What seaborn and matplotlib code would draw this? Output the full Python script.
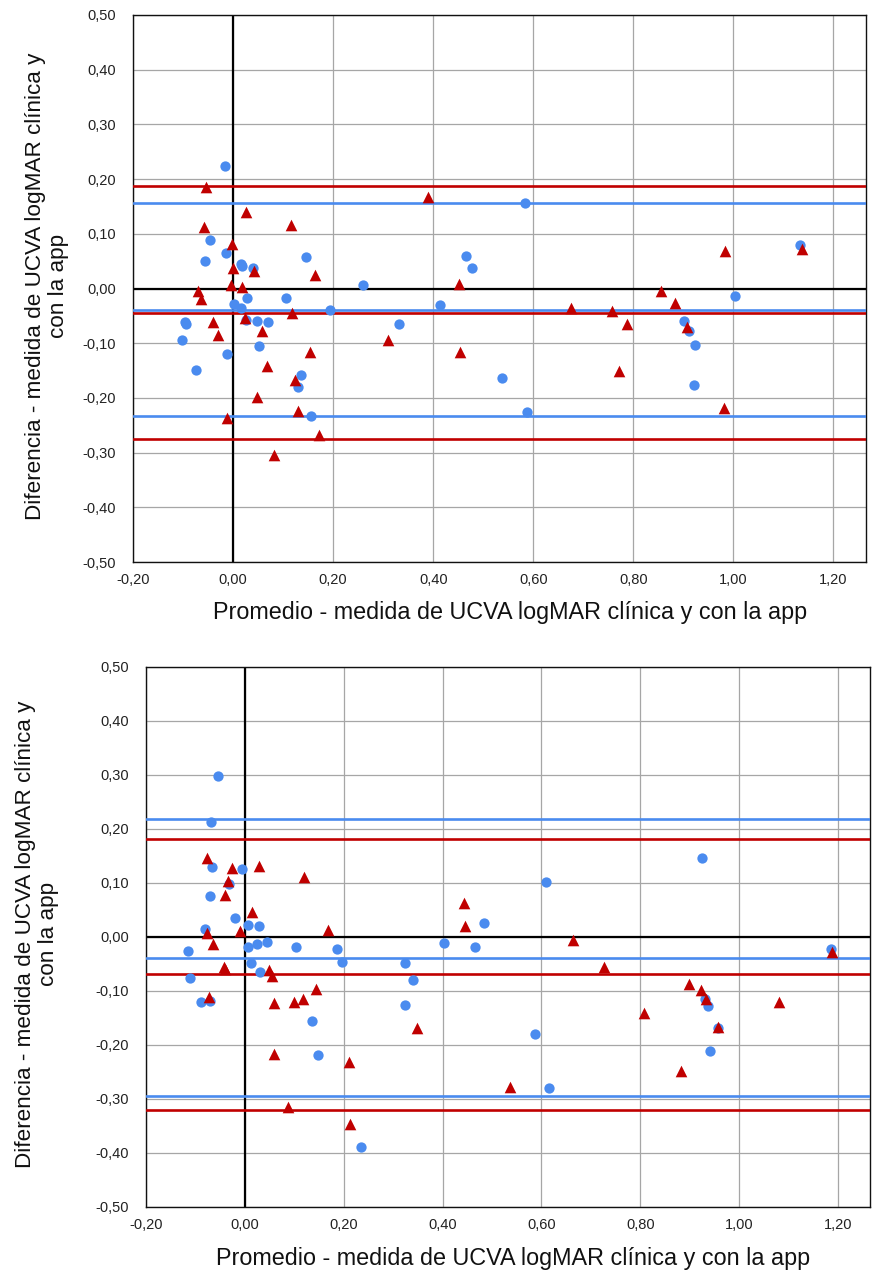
import matplotlib
matplotlib.use("Agg")
import matplotlib.pyplot as plt
import seaborn as sns
import pandas as pd

# ---------------- data ----------------
xticks = [-0.2, 0.0, 0.2, 0.4, 0.6, 0.8, 1.0, 1.2]
xtick_labels = ["-0,20", "0,00", "0,20", "0,40", "0,60", "0,80", "1,00", "1,20"]
yticks = [-0.5, -0.4, -0.3, -0.2, -0.1, 0.0, 0.1, 0.2, 0.3, 0.4, 0.5]
ytick_labels = ["-0,50", "-0,40", "-0,30", "-0,20", "-0,10", "0,00", "0,10", "0,20", "0,30", "0,40", "0,50"]

xlabel = "Promedio - medida de UCVA logMAR clínica y con la app"
ylabel = "Diferencia - medida de UCVA logMAR clínica y\ncon la app"

top_blue_x = [-0.017, -0.046, -0.015, -0.057, 0.015, 0.018, 0.039, 0.145, 0.027, 0.105, 0.001, 0.016, 0.193,
              -0.097, -0.095, 0.026, 0.048, 0.070, -0.103, 0.051, -0.013, -0.074, 0.136, 0.129, 0.155, 0.259,
              0.583, 0.465, 0.477, 0.413, 0.332, 0.537, 0.587, 1.133, 1.003, 0.902, 0.911, 0.923, 0.921]
top_blue_y = [0.224, 0.088, 0.064, 0.050, 0.045, 0.042, 0.037, 0.058, -0.018, -0.018, -0.029, -0.035, -0.039,
              -0.061, -0.064, -0.057, -0.059, -0.061, -0.094, -0.106, -0.119, -0.149, -0.158, -0.180, -0.234, 0.007,
              0.157, 0.060, 0.037, -0.031, -0.065, -0.164, -0.226, 0.080, -0.013, -0.059, -0.077, -0.104, -0.177]

top_red_x = [-0.054, 0.026, -0.059, 0.116, -0.002, 0.000, 0.042, 0.163, -0.005, 0.017, -0.071, -0.064, 0.118,
             0.024, -0.040, 0.057, -0.031, 0.153, 0.068, 0.123, 0.047, 0.130, -0.012, 0.172, 0.081, 0.390,
             0.451, 0.676, 0.309, 0.454, 1.137, 0.983, 0.855, 0.884, 0.758, 0.787, 0.907, 0.771, 0.981]
top_red_y = [0.186, 0.139, 0.113, 0.116, 0.081, 0.037, 0.032, 0.024, 0.007, 0.003, -0.004, -0.020, -0.044,
             -0.054, -0.062, -0.077, -0.085, -0.117, -0.141, -0.168, -0.198, -0.224, -0.236, -0.268, -0.304, 0.167,
             0.009, -0.036, -0.095, -0.116, 0.073, 0.069, -0.004, -0.026, -0.042, -0.064, -0.070, -0.150, -0.218]

top_blue_lines = [-0.039, 0.156, -0.233]
top_red_lines = [-0.045, 0.188, -0.275]

bot_blue_x = [-0.054, -0.069, -0.066, -0.005, -0.032, -0.071, -0.020, -0.080, 0.007, 0.028, 0.044, 0.007, 0.025,
              0.103, 0.187, -0.115, 0.197, 0.013, 0.030, -0.110, -0.089, -0.071, 0.135, 0.148, 0.236, 0.610,
              0.484, 0.403, 0.465, 0.325, 0.340, 0.325, 0.588, 0.615, 0.925, 1.187, 0.931, 0.937, 0.958, 0.941]
bot_blue_y = [0.298, 0.213, 0.129, 0.126, 0.099, 0.076, 0.036, 0.015, 0.022, 0.020, -0.009, -0.018, -0.013,
              -0.018, -0.022, -0.026, -0.047, -0.049, -0.064, -0.076, -0.120, -0.118, -0.156, -0.218, -0.389, 0.102,
              0.026, -0.012, -0.018, -0.049, -0.080, -0.125, -0.180, -0.279, 0.146, -0.022, -0.115, -0.127, -0.169, -0.212]

bot_red_x = [-0.077, -0.026, 0.029, 0.119, -0.035, -0.040, 0.014, -0.077, -0.009, 0.168, -0.065, -0.042, -0.040,
             0.048, 0.055, 0.143, -0.073, 0.060, 0.099, 0.117, 0.058, 0.210, 0.087, 0.213, 0.444, 0.446,
             0.665, 0.727, 0.348, 0.537, 1.189, 0.898, 0.923, 0.933, 1.081, 0.807, 0.957, 0.883]
bot_red_y = [0.147, 0.127, 0.131, 0.111, 0.104, 0.078, 0.046, 0.007, 0.011, 0.013, -0.013, -0.055, -0.060,
             -0.061, -0.073, -0.097, -0.111, -0.122, -0.120, -0.115, -0.217, -0.231, -0.315, -0.346, 0.063, 0.021,
             -0.006, -0.055, -0.168, -0.277, -0.027, -0.087, -0.098, -0.115, -0.120, -0.140, -0.166, -0.249]

bot_blue_lines = [-0.038, 0.219, -0.295]
bot_red_lines = [-0.068, 0.182, -0.320]

# ---------------- style ----------------
sns.set_style("white")
plt.rcParams["font.family"] = ["Liberation Sans", "DejaVu Sans"]

BLUE = "#4A8BEF"
BLUE_LINE = "#4A8BEF"
RED = "#C00000"
GRID = "#A6A6A6"

W, H = 872, 1274
fig = plt.figure(figsize=(W / 100, H / 100), dpi=100)


def px_axes(left, top, right, bottom):
    return fig.add_axes([left / W, 1 - bottom / H, (right - left) / W, (bottom - top) / H])


def draw(ax, bx, by, rx, ry, blines, rlines):
    ax.set_xlim(-0.2, 1.265)
    ax.set_ylim(-0.5, 0.5)
    ax.set_xticks(xticks)
    ax.set_xticklabels(xtick_labels)
    ax.set_yticks(yticks)
    ax.set_yticklabels(ytick_labels)
    ax.tick_params(length=0, labelsize=10.5, colors="#222222", pad=12)
    ax.tick_params(axis="x", pad=8)
    ax.grid(True, color=GRID, lw=0.9)
    ax.set_axisbelow(True)
    for s in ax.spines.values():
        s.set_color("#111111")
        s.set_linewidth(1.0)
    ax.axhline(0, color="black", lw=1.6, zorder=2)
    ax.axvline(0, color="black", lw=1.6, zorder=2)
    for v in blines:
        ax.axhline(v, color=BLUE_LINE, lw=1.9, zorder=3)
    for v in rlines:
        ax.axhline(v, color=RED, lw=1.9, zorder=3)
    dfb = pd.DataFrame({"x": bx, "y": by})
    dfr = pd.DataFrame({"x": rx, "y": ry})
    sns.scatterplot(data=dfb, x="x", y="y", ax=ax, marker="o", s=55, color=BLUE,
                    edgecolor=BLUE, linewidth=0, zorder=4)
    sns.scatterplot(data=dfr, x="x", y="y", ax=ax, marker="^", s=70, color=RED,
                    edgecolor=RED, linewidth=0, zorder=5)
    ax.set_xlabel("")
    ax.set_ylabel("")


ax1 = px_axes(133, 15, 866, 562)
draw(ax1, top_blue_x, top_blue_y, top_red_x, top_red_y, top_blue_lines, top_red_lines)

ax2 = px_axes(146, 667, 870, 1207)
draw(ax2, bot_blue_x, bot_blue_y, bot_red_x, bot_red_y, bot_blue_lines, bot_red_lines)

fig.text(510 / W, 1 - 613 / H, xlabel, ha="center", va="center", fontsize=16.8, color="#111111")
fig.text(513 / W, 1 - 1259 / H, xlabel, ha="center", va="center", fontsize=16.8, color="#111111")
fig.text(47 / W, 1 - 286 / H, ylabel, ha="center", va="center", rotation=90,
         multialignment="center", fontsize=16.2, color="#111111", linespacing=1.15)
fig.text(37 / W, 1 - 934 / H, ylabel, ha="center", va="center", rotation=90,
         multialignment="center", fontsize=16.2, color="#111111", linespacing=1.15)

fig.savefig("out.png", dpi=100)
